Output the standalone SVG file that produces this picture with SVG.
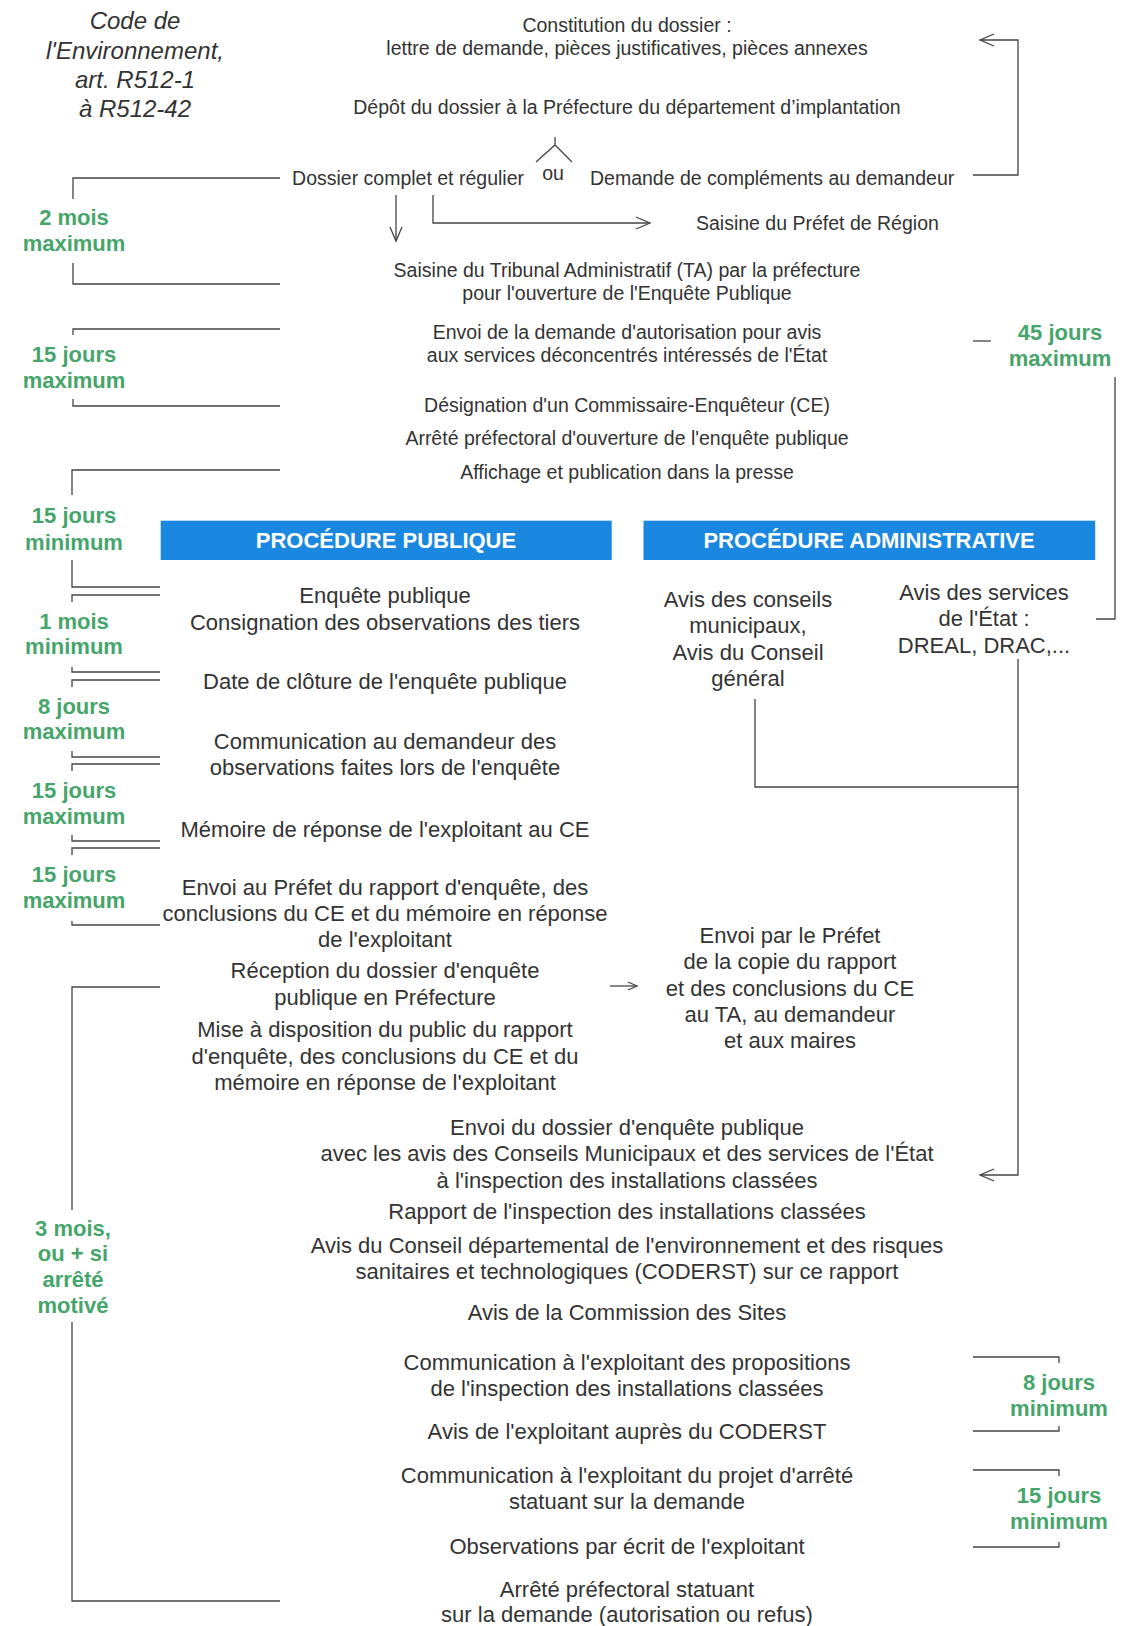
<svg xmlns="http://www.w3.org/2000/svg" width="1129" height="1626" viewBox="0 0 1129 1626">
<style>
text{font-family:"Liberation Sans",Arial,sans-serif;fill:#333;text-anchor:middle}
.s{font-size:19.5px}
.m{font-size:22px}
.it{font-size:24px;font-style:italic}
.g{font-size:22px;font-weight:bold;fill:#45a56a}
.bt{font-size:22px;font-weight:bold;fill:#fff}
.ban{fill:#1a87e0}
.ln{stroke:#444;stroke-width:1.3;fill:none}
</style>
<defs>
<marker id="ah" markerUnits="userSpaceOnUse" markerWidth="20" markerHeight="16" refX="15" refY="7" orient="auto" viewBox="0 0 20 16"><path d="M1,1 L15,7 L1,13" fill="none" stroke="#444" stroke-width="1.3"/></marker>
<marker id="ahs" markerUnits="userSpaceOnUse" markerWidth="14" markerHeight="12" refX="10" refY="5" orient="auto" viewBox="0 0 14 12"><path d="M1,1 L10,5 L1,9" fill="none" stroke="#444" stroke-width="1.3"/></marker>
</defs>
<rect width="1129" height="1626" fill="#fff"/>

<g id="code"><text class="it"><tspan x="135" y="29">Code de</tspan><tspan x="135" y="59">l'Environnement,</tspan><tspan x="135" y="88">art. R512-1</tspan><tspan x="135" y="117">à R512-42</tspan></text></g>

<g id="constitution"><text class="s"><tspan x="627" y="32">Constitution du dossier :</tspan><tspan x="627" y="55">lettre de demande, pièces justificatives, pièces annexes</tspan></text></g>
<g id="depot"><text class="s" x="627" y="114">Dépôt du dossier à la Préfecture du département d’implantation</text></g>
<g id="ou"><text class="s" x="553" y="180">ou</text></g>
<g id="complet"><text class="s" x="524" y="185" style="text-anchor:end">Dossier complet et régulier</text></g>
<g id="complements"><text class="s" x="590" y="185" style="text-anchor:start">Demande de compléments au demandeur</text></g>
<g id="prefet-region"><text class="s" x="696" y="230" style="text-anchor:start">Saisine du Préfet de Région</text></g>
<g id="tribunal"><text class="s"><tspan x="627" y="277">Saisine du Tribunal Administratif (TA) par la préfecture</tspan><tspan x="627" y="300">pour l'ouverture de l'Enquête Publique</tspan></text></g>
<g id="envoi-demande"><text class="s"><tspan x="627" y="339">Envoi de la demande d'autorisation pour avis</tspan><tspan x="627" y="362">aux services déconcentrés intéressés de l'État</tspan></text></g>
<g id="designation"><text class="s" x="627" y="412">Désignation d'un Commissaire-Enquêteur (CE)</text></g>
<g id="arrete-ouverture"><text class="s" x="627" y="445">Arrêté préfectoral d'ouverture de l'enquête publique</text></g>
<g id="affichage"><text class="s" x="627" y="479">Affichage et publication dans la presse</text></g>

<g id="banner-publique"><rect class="ban" x="160.7" y="520.7" width="451" height="39.3"/><text class="bt" x="386" y="548">PROCÉDURE PUBLIQUE</text></g>
<g id="banner-admin"><rect class="ban" x="643.5" y="520.7" width="451.7" height="39.3"/><text class="bt" x="869" y="548">PROCÉDURE ADMINISTRATIVE</text></g>

<g id="enquete"><text class="m"><tspan x="385" y="603">Enquête publique</tspan><tspan x="385" y="630">Consignation des observations des tiers</tspan></text></g>
<g id="cloture"><text class="m" x="385" y="689">Date de clôture de l'enquête publique</text></g>
<g id="communication-demandeur"><text class="m"><tspan x="385" y="749">Communication au demandeur des</tspan><tspan x="385" y="775">observations faites lors de l'enquête</tspan></text></g>
<g id="memoire"><text class="m" x="385" y="837">Mémoire de réponse de l'exploitant au CE</text></g>
<g id="envoi-prefet"><text class="m"><tspan x="385" y="895">Envoi au Préfet du rapport d'enquête, des</tspan><tspan x="385" y="921">conclusions du CE et du mémoire en réponse</tspan><tspan x="385" y="947">de l'exploitant</tspan></text></g>
<g id="reception"><text class="m"><tspan x="385" y="978">Réception du dossier d'enquête</tspan><tspan x="385" y="1005">publique en Préfecture</tspan></text></g>
<g id="mise-disposition"><text class="m"><tspan x="385" y="1037">Mise à disposition du public du rapport</tspan><tspan x="385" y="1064">d'enquête, des conclusions du CE et du</tspan><tspan x="385" y="1090">mémoire en réponse de l'exploitant</tspan></text></g>

<g id="conseils"><text class="m"><tspan x="748" y="607">Avis des conseils</tspan><tspan x="748" y="633">municipaux,</tspan><tspan x="748" y="660">Avis du Conseil</tspan><tspan x="748" y="686">général</tspan></text></g>
<g id="services-etat"><text class="m"><tspan x="984" y="600">Avis des services</tspan><tspan x="984" y="626">de l'État :</tspan><tspan x="984" y="653">DREAL, DRAC,...</tspan></text></g>
<g id="envoi-copie"><text class="m"><tspan x="790" y="943">Envoi par le Préfet</tspan><tspan x="790" y="969">de la copie du rapport</tspan><tspan x="790" y="996">et des conclusions du CE</tspan><tspan x="790" y="1022">au TA, au demandeur</tspan><tspan x="790" y="1048">et aux maires</tspan></text></g>

<g id="envoi-dossier"><text class="m"><tspan x="627" y="1135">Envoi du dossier d'enquête publique</tspan><tspan x="627" y="1161">avec les avis des Conseils Municipaux et des services de l'État</tspan><tspan x="627" y="1188">à l'inspection des installations classées</tspan></text></g>
<g id="rapport-inspection"><text class="m" x="627" y="1219">Rapport de l'inspection des installations classées</text></g>
<g id="coderst"><text class="m"><tspan x="627" y="1253">Avis du Conseil départemental de l'environnement et des risques</tspan><tspan x="627" y="1279">sanitaires et technologiques (CODERST) sur ce rapport</tspan></text></g>
<g id="commission-sites"><text class="m" x="627" y="1320">Avis de la Commission des Sites</text></g>
<g id="communication-propositions"><text class="m"><tspan x="627" y="1370">Communication à l'exploitant des propositions</tspan><tspan x="627" y="1396">de l'inspection des installations classées</tspan></text></g>
<g id="avis-exploitant"><text class="m" x="627" y="1439">Avis de l'exploitant auprès du CODERST</text></g>
<g id="communication-projet"><text class="m"><tspan x="627" y="1483">Communication à l'exploitant du projet d'arrêté</tspan><tspan x="627" y="1509">statuant sur la demande</tspan></text></g>
<g id="observations"><text class="m" x="627" y="1554">Observations par écrit de l'exploitant</text></g>
<g id="arrete-final"><text class="m"><tspan x="627" y="1597">Arrêté préfectoral statuant</tspan><tspan x="627" y="1622">sur la demande (autorisation ou refus)</tspan></text></g>

<g id="delais">
<text class="g"><tspan x="74" y="225">2 mois</tspan><tspan x="74" y="251">maximum</tspan></text>
<text class="g"><tspan x="74" y="362">15 jours</tspan><tspan x="74" y="388">maximum</tspan></text>
<text class="g"><tspan x="1060" y="340">45 jours</tspan><tspan x="1060" y="366">maximum</tspan></text>
<text class="g"><tspan x="74" y="523">15 jours</tspan><tspan x="74" y="550">minimum</tspan></text>
<text class="g"><tspan x="74" y="629">1 mois</tspan><tspan x="74" y="654">minimum</tspan></text>
<text class="g"><tspan x="74" y="714">8 jours</tspan><tspan x="74" y="739">maximum</tspan></text>
<text class="g"><tspan x="74" y="798">15 jours</tspan><tspan x="74" y="824">maximum</tspan></text>
<text class="g"><tspan x="74" y="882">15 jours</tspan><tspan x="74" y="908">maximum</tspan></text>
<text class="g"><tspan x="73" y="1236">3 mois,</tspan><tspan x="73" y="1261">ou + si</tspan><tspan x="73" y="1287">arrêté</tspan><tspan x="73" y="1313">motivé</tspan></text>
<text class="g"><tspan x="1059" y="1390">8 jours</tspan><tspan x="1059" y="1416">minimum</tspan></text>
<text class="g"><tspan x="1059" y="1503">15 jours</tspan><tspan x="1059" y="1529">minimum</tspan></text>
</g>

<g id="connectors">
<path class="ln" d="M536,162 L555,145 L572,162 M555,145 V137"/>
<path class="ln" d="M973,175 H1018 V40 H980" marker-end="url(#ah)"/>
<path class="ln" d="M396,195 V241" marker-end="url(#ah)"/>
<path class="ln" d="M433,195 V223 H650" marker-end="url(#ah)"/>
<path class="ln" d="M973,341 H991"/>
<path class="ln" d="M1115,377 V619 H1096"/>
<path class="ln" d="M755,699 V787 H1018"/>
<path class="ln" d="M1018,659 V1175 H980" marker-end="url(#ah)"/>
<path class="ln" d="M610,986 H637" marker-end="url(#ahs)"/>
</g>

<g id="brackets">
<path class="ln" d="M280,178 H73 V199 M73,263 V284 H280"/>
<path class="ln" d="M280,329 H73 V335 M73,399 V406 H280"/>
<path class="ln" d="M280,470 H72 V495 M72,560 V587 H160"/>
<path class="ln" d="M160,595 H72 V602 M72,667 V672 H160"/>
<path class="ln" d="M160,680 H72 V687 M72,751 V757 H160"/>
<path class="ln" d="M160,764 H72 V771 M72,835 V841 H160"/>
<path class="ln" d="M160,848 H72 V855 M72,921 V925 H160"/>
<path class="ln" d="M160,987 H72 V1210 M72,1322 V1601 H280"/>
<path class="ln" d="M973,1357 H1059 V1363 M1059,1426 V1431 H973"/>
<path class="ln" d="M973,1470 H1059 V1476 M1059,1542 V1547 H973"/>
</g>
</svg>
